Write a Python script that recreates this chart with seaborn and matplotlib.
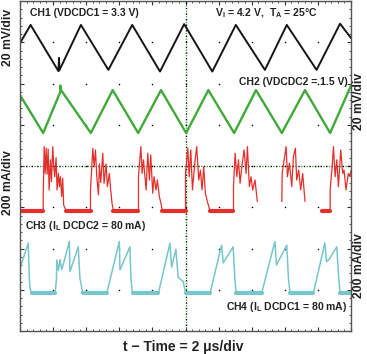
import pandas as pd
import seaborn as sns
import matplotlib.pyplot as plt

# scope screen is 10 x 8 divisions, all values below are in divisions

# CH1  VDCDC1 ripple (black)
ch1_t = [[0.00, 0.32, 1.16, 1.18, 1.19, 1.84, 2.67, 3.39, 4.23, 4.96, 5.81, 6.52, 7.40, 8.06, 8.96, 9.67, 10.0]]
ch1_v = [[6.98, 7.42, 6.30, 6.62, 6.32, 7.42, 6.33, 7.42, 6.29, 7.44, 6.29, 7.42, 6.33, 7.42, 6.33, 7.45, 7.10]]

# CH2  VDCDC2 ripple (green)
ch2_t = [[0.00, 0.70, 1.22, 1.22, 1.24, 2.14, 2.80, 3.57, 4.26, 5.02, 5.69, 6.47, 7.13, 7.91, 8.61, 9.37, 10.0]]
ch2_v = [[5.72, 4.80, 5.80, 5.95, 5.84, 4.80, 5.84, 4.80, 5.84, 4.80, 5.84, 4.80, 5.84, 4.80, 5.84, 4.80, 5.95]]

# CH3  inductor current DCDC2 (red)
ch3_t = [
    [0.00, 0.70, 0.70, 0.73, 0.76, 0.79, 0.82, 0.85, 0.88, 0.92, 0.95, 0.99, 1.02, 1.05, 1.09, 1.12, 1.16, 1.19, 1.22, 1.26, 1.29, 1.32, 1.36,
     1.40, 2.13, 2.13, 2.20, 2.24, 2.28, 2.32, 2.37, 2.40, 2.44, 2.50, 2.54, 2.60, 2.64, 2.70, 2.74, 2.78,
     2.82, 3.58, 3.58, 3.65, 3.69, 3.73, 3.81, 3.86, 3.91, 3.95, 4.01, 4.05, 4.11, 4.15, 4.21, 4.27,
     4.30, 5.00, 5.00, 5.07, 5.11, 5.16, 5.21, 5.29, 5.34, 5.40, 5.45, 5.50, 5.55, 5.60, 5.66, 5.71,
     5.74, 6.45, 6.45, 6.50, 6.55, 6.60, 6.65, 6.70, 6.77, 6.83, 6.87, 6.93, 6.98, 7.03, 7.10, 7.17],
    [7.91, 7.92, 7.98, 8.04, 8.08, 8.14, 8.21, 8.26, 8.32, 8.36, 8.42, 8.48, 8.54, 8.61],
    [9.11, 9.37, 9.37, 9.43, 9.47, 9.52, 9.57, 9.62, 9.69, 9.75, 9.79, 9.85, 9.92, 9.97, 10.0],
]
ch3_v = [
    [2.92, 2.92, 3.26, 4.47, 3.82, 4.43, 3.80, 4.41, 3.42, 4.15, 3.62, 4.47, 3.98, 3.74, 4.20, 3.42, 3.82, 3.50, 3.74, 3.26, 3.70, 3.05, 2.98,
     2.92, 2.92, 3.42, 4.43, 3.98, 4.39, 3.74, 3.30, 4.05, 3.60, 4.31, 3.58, 4.05, 3.50, 3.82, 3.42, 3.10,
     2.92, 2.92, 3.74, 4.47, 3.82, 4.15, 3.42, 4.31, 3.66, 4.27, 3.34, 3.74, 3.42, 3.66, 3.26, 3.05,
     2.92, 2.92, 3.82, 4.43, 3.74, 4.39, 3.42, 4.15, 4.47, 3.66, 3.90, 3.42, 3.98, 3.34, 3.14, 3.00,
     2.92, 2.92, 3.50, 4.31, 3.74, 4.15, 3.58, 3.98, 4.39, 3.82, 4.47, 3.50, 3.74, 3.42, 3.66, 3.14],
    [3.14, 3.82, 4.15, 4.47, 3.74, 4.07, 3.50, 4.23, 4.43, 3.66, 3.90, 3.42, 3.82, 3.14],
    [2.92, 2.92, 3.42, 3.98, 4.47, 3.74, 4.15, 3.50, 4.39, 3.82, 3.90, 3.42, 3.82, 3.74, 3.90],
]
ch3_low_t = [[0.00, 0.70], [1.40, 2.13], [2.82, 3.58], [4.30, 5.00], [5.74, 6.45], [9.11, 9.37]]
ch3_low_v = [[2.92, 2.92]] * 6

# CH4  inductor current DCDC1 (cyan)
ch4_t = [[0.00, 0.25, 0.28, 0.30, 0.35, 1.06, 1.10, 1.11, 1.16, 1.21, 1.26, 1.31, 1.49, 1.51, 1.76, 1.81, 1.86, 1.89,
          2.62, 3.00, 3.02, 3.32, 3.35, 3.40,
          4.18, 4.53, 4.58, 4.71, 4.78, 4.93, 4.98, 5.03,
          5.74, 6.09, 6.14, 6.44, 6.49, 6.53,
          7.30, 7.70, 7.75, 8.06, 8.11, 8.16,
          8.86, 9.21, 9.26, 9.35, 9.57, 9.63, 9.67, 10.0]]
ch4_v = [[1.52, 2.13, 1.28, 1.05, 0.91, 0.91, 1.25, 1.72, 1.47, 1.73, 1.49, 1.62, 2.17, 1.44, 2.04, 1.28, 1.08, 0.91,
          0.91, 2.17, 1.48, 2.04, 1.28, 0.91,
          0.91, 2.13, 1.55, 1.98, 1.30, 1.20, 1.00, 0.91,
          0.91, 2.08, 1.65, 2.04, 1.28, 0.91,
          0.91, 2.17, 1.60, 2.08, 1.28, 0.91,
          0.91, 2.13, 1.68, 1.75, 2.04, 1.28, 0.91, 0.91]]
ch4_low_t = [[0.35, 1.06], [1.89, 2.62], [3.40, 4.18], [5.03, 5.74], [6.53, 7.30], [8.16, 8.86], [9.67, 10.0]]
ch4_low_v = [[0.91, 0.91]] * 7


def frame(ts, vs):
    rows = []
    for k, (t, v) in enumerate(zip(ts, vs)):
        rows += [(k, a, b) for a, b in zip(t, v)]
    return pd.DataFrame(rows, columns=['seg', 't', 'v'])


sns.set_theme(style='white')
plt.rcParams['font.family'] = ['Liberation Sans', 'DejaVu Sans']
plt.rcParams['mathtext.fontset'] = 'custom'

fig = plt.figure(figsize=(3.67, 3.54), dpi=100)
ax = fig.add_axes([20 / 367, 23 / 354, 331 / 367, 330 / 354])

green = '#3faa3a'
red = '#e3302c'
cyan = '#78c6c9'

# screen markings
ax.axvline(5, color='black', ls=(0, (1, 3)), lw=1, zorder=1)
ax.axvline(5, color=green, ls=(2, (1, 3)), lw=1, zorder=1)
ax.axhline(4, color='black', ls=(0, (1, 3)), lw=1, zorder=1)
ax.axhline(4, color=green, ls=(2, (1, 3)), lw=1, zorder=1)
for i in range(1, 10):
    ax.scatter([i] * 7, range(1, 8), s=1.2, color='black', lw=0, zorder=1)

kw = dict(x='t', y='v', units='seg', estimator=None, sort=False, legend=False, ax=ax)
sns.lineplot(data=frame(ch3_low_t, ch3_low_v), color=red, lw=3.0, **kw)
sns.lineplot(data=frame(ch3_t, ch3_v), color=red, lw=0.9, **kw)
sns.lineplot(data=frame(ch4_low_t, ch4_low_v), color=cyan, lw=3.0, **kw)
sns.lineplot(data=frame(ch4_t, ch4_v), color=cyan, lw=1.1, **kw)
sns.lineplot(data=frame(ch2_t, ch2_v), color=green, lw=1.7, **kw)
sns.lineplot(data=frame(ch1_t, ch1_v), color='#151515', lw=1.4, **kw)

ax.set_xlim(0, 10)
ax.set_ylim(0, 8)
ax.set_xticks(range(11))
ax.set_yticks(range(9))
ax.set_xticks([i / 5 for i in range(51)], minor=True)
ax.set_yticks([i / 5 for i in range(41)], minor=True)
ax.tick_params(which='both', direction='in', top=True, right=True, bottom=True, left=True,
               labelbottom=False, labelleft=False, color='#333')
ax.tick_params(which='major', length=3, width=0.8)
ax.tick_params(which='minor', length=1.5, width=0.6)
ax.set_xlabel('')
ax.set_ylabel('')
for s in ax.spines.values():
    s.set_color('#555555')
    s.set_linewidth(1.0)

tk = dict(fontsize=7.5, fontweight='bold', color='#222222', va='center', zorder=5)
ax.text(0.30, 7.71, 'CH1 (VDCDC1 = 3.3 V)', ha='left', **tk)
ax.text(5.89, 7.71, r'V$_{\mathregular{I}}$ = 4.2 V,  T$_{\mathregular{A}}$ = 25°C', ha='left', **tk)
ax.text(9.91, 6.04, 'CH2 (VDCDC2 = 1.5 V)', ha='right', **tk)
ax.text(0.15, 2.55, r'CH3 (I$_{\mathregular{L}}$ DCDC2 = 80 mA)', ha='left', **tk)
ax.text(9.88, 0.58, r'CH4 (I$_{\mathregular{L}}$ DCDC1 = 80 mA)', ha='right', **tk)

sk = dict(fontsize=8.8, fontweight='bold', color='#222222', rotation=90, ha='center', va='center')
fig.text(0.022, 1 - 37 / 354, '20 mV/div', **sk)
fig.text(0.022, 1 - 183 / 354, '200 mA/div', **sk)
fig.text(0.978, 1 - 101 / 354, '20 mV/div', **sk)
fig.text(0.978, 1 - 266 / 354, '200 mA/div', **sk)
fig.text(0.50, 1 - 347 / 354, 't \u2212 Time = 2 \u03bcs/div', fontsize=10, fontweight='bold',
         color='#222222', ha='center', va='center')

plt.savefig('out.png', dpi=100)
